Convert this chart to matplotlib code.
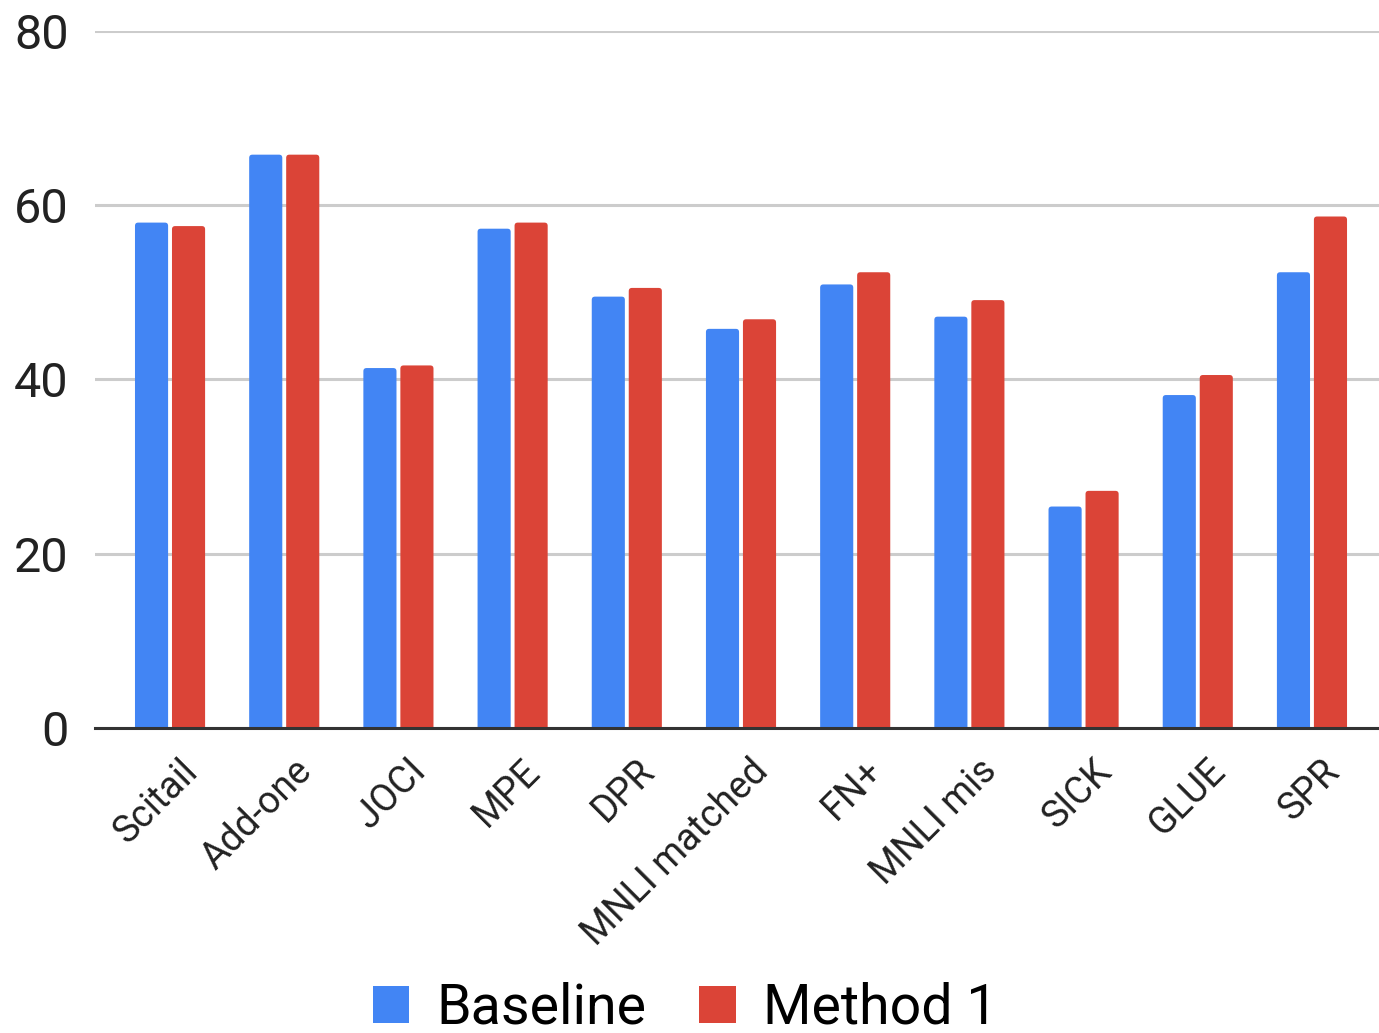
import matplotlib
matplotlib.use("Agg")
import matplotlib.pyplot as plt
from matplotlib.patches import FancyBboxPatch, Patch
import matplotlib.transforms as mtransforms
import numpy as np

categories = ["Scitail", "Add-one", "JOCI", "MPE", "DPR", "MNLI matched",
              "FN+", "MNLI mis", "SICK", "GLUE", "SPR"]
baseline = [58.0, 65.8, 41.3, 57.3, 49.5, 45.8, 50.9, 47.2, 25.4, 38.2, 52.3]
method1 = [57.6, 65.8, 41.6, 58.0, 50.5, 46.9, 52.3, 49.1, 27.2, 40.5, 58.7]
series_names = ["Baseline", "Method 1"]
yticks = [0, 20, 40, 60, 80]

BLUE = "#4285F4"
RED = "#DB4437"

plt.rcParams["font.family"] = ["Roboto", "DejaVu Sans"]

fig = plt.figure(figsize=(13.79, 10.33), dpi=100)
ax = fig.add_axes([0.0689, 0.2955, 0.9311, 0.6745])

x = np.arange(len(categories))
width = 0.29
offset = 0.162

bars_b = ax.bar(x - offset, baseline, width, color=BLUE, zorder=3)
bars_m = ax.bar(x + offset, method1, width, color=RED, zorder=3)

# Swap plain rectangles for ones with softly rounded tops
for bars, col in ((bars_b, BLUE), (bars_m, RED)):
    for rect in bars:
        bx, bw, bh = rect.get_x(), rect.get_width(), rect.get_height()
        fb = FancyBboxPatch((bx, -2), bw, bh + 2,
                            boxstyle="round,pad=0,rounding_size=0.028",
                            mutation_aspect=13.0,
                            facecolor=col, edgecolor="none", zorder=3)
        ax.add_patch(fb)
        rect.remove()

ax.set_ylim(0, 80)
ax.set_xlim(-0.657, 10.587)
ax.set_yticks(yticks)
ax.set_yticklabels([str(t) for t in yticks], fontsize=35, color="#222222")
ax.yaxis.grid(True, color="#cccccc", linewidth=2.2, zorder=0)
ax.set_axisbelow(True)
ax.tick_params(axis="y", length=0, pad=19)
ax.tick_params(axis="x", length=0, pad=4)

for s in ("top", "right", "left"):
    ax.spines[s].set_visible(False)
ax.spines["bottom"].set_color("#333333")
ax.spines["bottom"].set_linewidth(2.2)
ax.spines["bottom"].set_zorder(4)

ax.set_xticks(x)
ax.set_xticklabels(categories, rotation=45, ha="right", va="center",
                   rotation_mode="anchor", fontsize=27, color="#222222")
shift = mtransforms.ScaledTranslation(22 / 100, -32 / 100, fig.dpi_scale_trans)
for lbl in ax.get_xticklabels():
    lbl.set_transform(lbl.get_transform() + shift)

handles = [Patch(facecolor=BLUE, edgecolor="none"),
           Patch(facecolor=RED, edgecolor="none")]
fig.legend(handles, series_names, loc="lower center",
           bbox_to_anchor=(0.497, -0.05), ncol=2, frameon=False,
           fontsize=40, handlelength=0.65, handleheight=0.65,
           handletextpad=0.5, columnspacing=0.95)

fig.savefig("out.png", dpi=100, facecolor="white")
